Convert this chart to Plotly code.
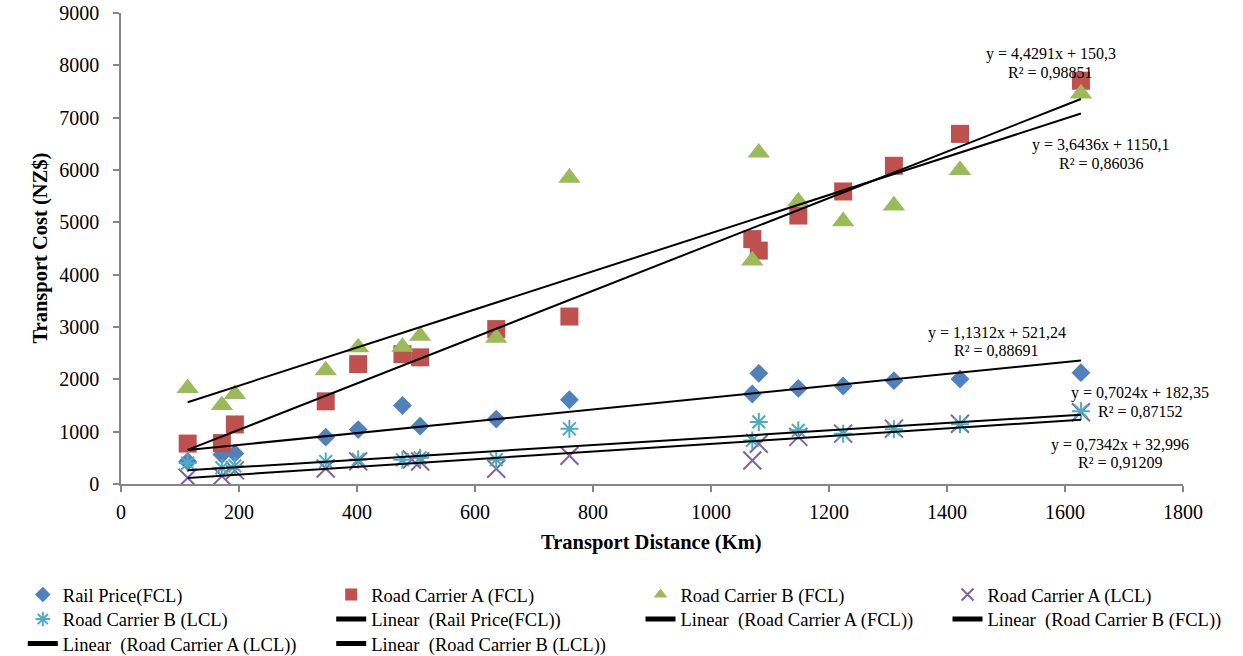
import plotly.graph_objects as go

# ---------------- data ----------------
distance = [113, 171, 193, 347, 402, 477, 507, 636, 760, 1070, 1081, 1148, 1224, 1310, 1422, 1627]
distance_a_lcl = [113, 171, 193, 347, 402, 493, 507, 636, 760, 1070, 1081, 1148, 1224, 1310, 1422, 1627]

rail_fcl = [430, 563, 585, 895, 1040, 1500, 1105, 1240, 1610, 1720, 2115, 1827, 1872, 1974, 2006, 2128]
road_a_fcl = [772, 782, 1138, 1580, 2290, 2480, 2420, 2960, 3200, 4680, 4460, 5130, 5590, 6080, 6690, 7706]
road_b_fcl = [1830, 1506, 1718, 2170, 2610, 2620, 2830, 2790, 5850, 4270, 6330, 5400, 5020, 5320, 6000, 7460]
road_a_lcl = [118, 150, 260, 295, 433, 468, 430, 290, 540, 450, 770, 900, 962, 1058, 1150, 1370]
road_b_lcl = [400, 308, 345, 430, 470, 462, 500, 465, 1055, 833, 1186, 1026, 962, 1045, 1141, 1390]

series_names = ["Rail Price(FCL)", "Road Carrier A (FCL)", "Road Carrier B (FCL)",
                "Road Carrier A (LCL)", "Road Carrier B (LCL)"]

# trendline equations shown on the chart
trend_slope = [1.1312, 4.4291, 3.6436, 0.7342, 0.7024]
trend_intercept = [521.24, 150.3, 1150.1, 32.996, 182.35]
trend_eq_text = ["y = 1,1312x + 521,24", "y = 4,4291x + 150,3", "y = 3,6436x + 1150,1",
                 "y = 0,7342x + 32,996", "y = 0,7024x + 182,35"]
trend_r2_text = ["R² = 0,88691", "R² = 0,98851", "R² = 0,86036",
                 "R² = 0,91209", "R² = 0,87152"]

x_ticks = [0, 200, 400, 600, 800, 1000, 1200, 1400, 1600, 1800]
y_ticks = [0, 1000, 2000, 3000, 4000, 5000, 6000, 7000, 8000, 9000]

# ---------------- styling ----------------
FONT = "Liberation Serif"
W, H = 1243, 656
L, R, T, B = 121, 1183.5, 13.3, 484.3  # plot area in pixels


def px_to_paper(px, py):
    return (px - L) / (R - L), (B - py) / (B - T)


xs = [distance, distance, distance, distance_a_lcl, distance]
ys = [rail_fcl, road_a_fcl, road_b_fcl, road_a_lcl, road_b_lcl]
markers = [
    dict(symbol="diamond", size=14.5, color="#4F81BD"),
    dict(symbol="square", size=18, color="#C0504D"),
    dict(symbol="triangle-up", size=19.5, color="#9BBB59"),
    dict(symbol="x-thin-open", size=18, color="#8064A2", line=dict(width=2, color="#8064A2")),
    dict(symbol="asterisk-open", size=15, color="#4BACC6", line=dict(width=2, color="#4BACC6")),
]

# legend grid: (column, row) of every legend entry, markers first then trendlines
col_text_x = [63.3, 371.7, 681, 988]
row_y = [595, 619.5, 644]
marker_cells = [(0, 0), (1, 0), (2, 0), (3, 0), (0, 1)]
line_cells = [(1, 1), (2, 1), (3, 1), (0, 2), (1, 2)]
TEXT_OFFSET = 40.5

fig = go.Figure()
legend_defs = {}
leg_common = dict(xref="container", yref="container", xanchor="left", yanchor="middle",
                  orientation="v", bgcolor="rgba(0,0,0,0)", borderwidth=0,
                  itemsizing="constant", tracegroupgap=0,
                  font=dict(family=FONT, size=18.5, color="black"))


def legend_key(n):
    return "legend" if n == 1 else "legend%d" % n


for i in range(5):
    key = legend_key(i + 1)
    c, r = marker_cells[i]
    legend_defs[key] = dict(x=(col_text_x[c] - TEXT_OFFSET) / W, y=1 - row_y[r] / H, **leg_common)
    fig.add_trace(go.Scatter(
        x=xs[i], y=ys[i], mode="markers", name=series_names[i],
        marker=markers[i], legend=key, hoverinfo="x+y"))

for i in range(5):
    key = legend_key(i + 6)
    c, r = line_cells[i]
    legend_defs[key] = dict(x=(col_text_x[c] - TEXT_OFFSET) / W, y=1 - row_y[r] / H, **leg_common)
    x0, x1 = min(xs[i]), max(xs[i])
    fig.add_trace(go.Scatter(
        x=[x0, x1],
        y=[trend_slope[i] * x0 + trend_intercept[i], trend_slope[i] * x1 + trend_intercept[i]],
        mode="lines", name="Linear\u00a0 (" + series_names[i] + ")",
        line=dict(color="black", width=2), legend=key))

# equation annotation positions (pixel centres)
eq_pos = [(997, 333.3), (1051.4, 54.5), (1101, 145), (1120.5, 445.7), (1140, 393.3)]
r2_pos = [(997, 350.5), (1051, 72.7), (1102, 163.3), (1121, 462.7), (1140.7, 411.7)]
annotations = []
for i in range(5):
    for txt, (px, py) in ((trend_eq_text[i], eq_pos[i]), (trend_r2_text[i], r2_pos[i])):
        ax, ay = px_to_paper(px, py)
        annotations.append(dict(x=ax, y=ay, xref="paper", yref="paper", text=txt,
                                showarrow=False, xanchor="center", yanchor="middle",
                                font=dict(family=FONT, size=16, color="black")))

xt, yt = px_to_paper(652, 543)
annotations.append(dict(x=xt, y=yt, xref="paper", yref="paper", text="<b>Transport Distance (Km)</b>",
                        showarrow=False, xanchor="center", yanchor="middle",
                        font=dict(family=FONT, size=20.5, color="black")))
xt, yt = px_to_paper(40, 248.8)
annotations.append(dict(x=xt, y=yt, xref="paper", yref="paper", text="<b>Transport Cost (NZ$)</b>",
                        showarrow=False, xanchor="center", yanchor="middle", textangle=-90,
                        font=dict(family=FONT, size=20.5, color="black")))

axis_common = dict(showgrid=False, zeroline=False, showline=True, linecolor="#868686", linewidth=1.5,
                   ticks="outside", ticklen=6, tickwidth=1.5, tickcolor="#868686",
                   tickfont=dict(family=FONT, size=20, color="black"))

fig.update_layout(
    width=W, height=H,
    margin=dict(l=L, r=W - R, t=T, b=H - B, pad=0, autoexpand=False),
    plot_bgcolor="white", paper_bgcolor="white",
    xaxis=dict(range=[0, 1800], tickvals=x_ticks, ticklabelstandoff=3, **axis_common),
    yaxis=dict(range=[0, 9000], tickvals=y_ticks, ticklabelstandoff=10, **axis_common),
    annotations=annotations,
    showlegend=True,
    **legend_defs,
)

fig.write_html("out.html", config={"displayModeBar": False},
               post_script="document.body.style.margin='0';document.body.style.overflow='hidden';")
